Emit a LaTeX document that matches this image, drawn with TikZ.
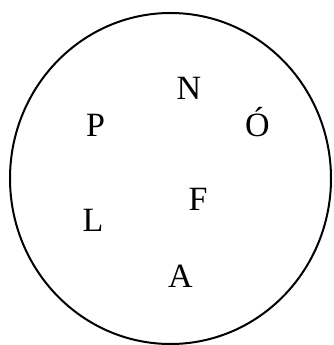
\documentclass[tikz,border=0pt]{standalone}
\usepackage{fontspec}
\setmainfont{Liberation Serif}
\begin{document}
\begin{tikzpicture}[x=1pt,y=1pt,
  letter/.style={anchor=base,inner sep=0pt,font=\fontsize{34}{40}\selectfont}]
\useasboundingbox (0,0) rectangle (333,345);
\draw[line width=2pt] (170.5,166.5) ellipse [x radius=160.5, y radius=165.5];
\node[letter] (n) at (189,245) {N};
\node[letter] (p) at (95.5,208) {P};
\node[letter] (o) at (257.5,208) {Ó};
\node[letter] (f) at (198,134) {F};
\node[letter] (l) at (93,113) {L};
\node[letter] (a) at (180.5,57) {A};
\end{tikzpicture}
\end{document}
